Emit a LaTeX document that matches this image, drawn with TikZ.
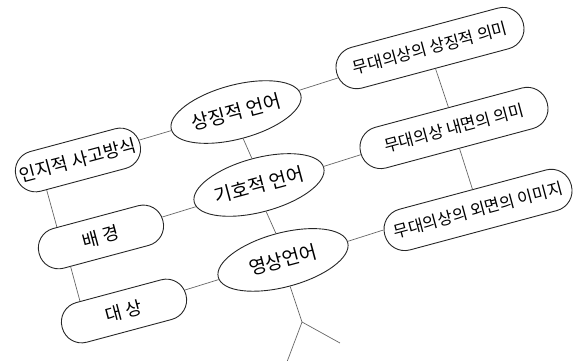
\documentclass[tikz,border=0pt]{standalone}
\usepackage{fontspec}
\newfontfamily\krfont{Noto Sans CJK KR}
\usetikzlibrary{shapes.geometric,calc}
\tikzset{
  leftbox/.style={draw=black!85, line width=0.9pt, rounded corners=20pt,
    minimum width=128pt, minimum height=41pt, inner sep=0pt,
    font=\krfont\fontsize{18}{18}\selectfont},
  midell/.style={draw=black!85, line width=0.9pt, ellipse,
    minimum width=134pt, minimum height=54pt, inner sep=0pt,
    font=\krfont\fontsize{19}{19}\selectfont},
  rightbox/.style={draw=black!85, line width=0.9pt, rounded corners=20.5pt,
    minimum width=193pt, minimum height=42pt, inner sep=0pt,
    font=\krfont\fontsize{16.5}{16.5}\selectfont},
  conn/.style={draw=black!60, line width=0.7pt}
}
\begin{document}
\begin{tikzpicture}[x=1pt,y=1pt]
\useasboundingbox (0,0) rectangle (579,-360);
\clip (0,0) rectangle (579,-360);
\begin{scope}[rotate=15, transform shape]
  % left column
  \node[leftbox] (inj) at (33.9,-174.7) {인지적 사고방식};
  \node[leftbox] (bg)  at (36.2,-255.0) {배 경};
  \node[leftbox] (ds)  at (39.3,-332.5) {대 상};
  % middle column
  \node[midell] (sym) at (199.0,-169.3) {상징적 언어};
  \node[midell] (gih) at (202.3,-245.7) {기호적 언어};
  \node[midell] (ys)  at (206.1,-324.3) {영상언어};
  % right column
  \node[rightbox] (m1) at (402.9,-157.7) {무대의상의 상징적 의미};
  \node[rightbox] (m2) at (405.4,-241.1) {무대의상 내면의 의미};
  \node[rightbox] (m3) at (407.4,-326.5) {무대의상의 외면의 이미지};
  % horizontal connectors
  \draw[conn] (inj.3.4) -- (sym.181.5);
  \draw[conn] (bg.3.7) -- (gih.184.5);
  \draw[conn] (ds.4.7) -- (ys.182.7);
  \draw[conn] (sym.4.3) -- (m1.183.9);
  \draw[conn] (gih.1.3) -- (m2.181.8);
  \draw[conn] (ys.1.8) -- (m3.177.4);
  % vertical connectors
  \draw[conn] ($(inj.south)!38pt!(inj.south west)$) -- ($(bg.north)!40pt!(bg.north west)$);
  \draw[conn] ($(bg.south)!37pt!(bg.south west)$) -- ($(ds.north)!40pt!(ds.north west)$);
  \draw[conn] (sym.south) -- (gih.north);
  \draw[conn] (gih.south) -- (ys.north);
  \draw[conn] (m1.south) -- (m2.north);
  \draw[conn] (m2.south) -- (m3.north);
  % tree below
  \coordinate (fork) at (208.4,-389.2);
  \coordinate (brR) at (239.6,-419.3);
  \coordinate (brL) at (182.0,-426.0);
  \draw[conn] (ys.south) -- (fork);
  \draw[conn] (fork) -- (brR);
  \draw[conn] (fork) -- (brL);
\end{scope}
\end{tikzpicture}
\end{document}
